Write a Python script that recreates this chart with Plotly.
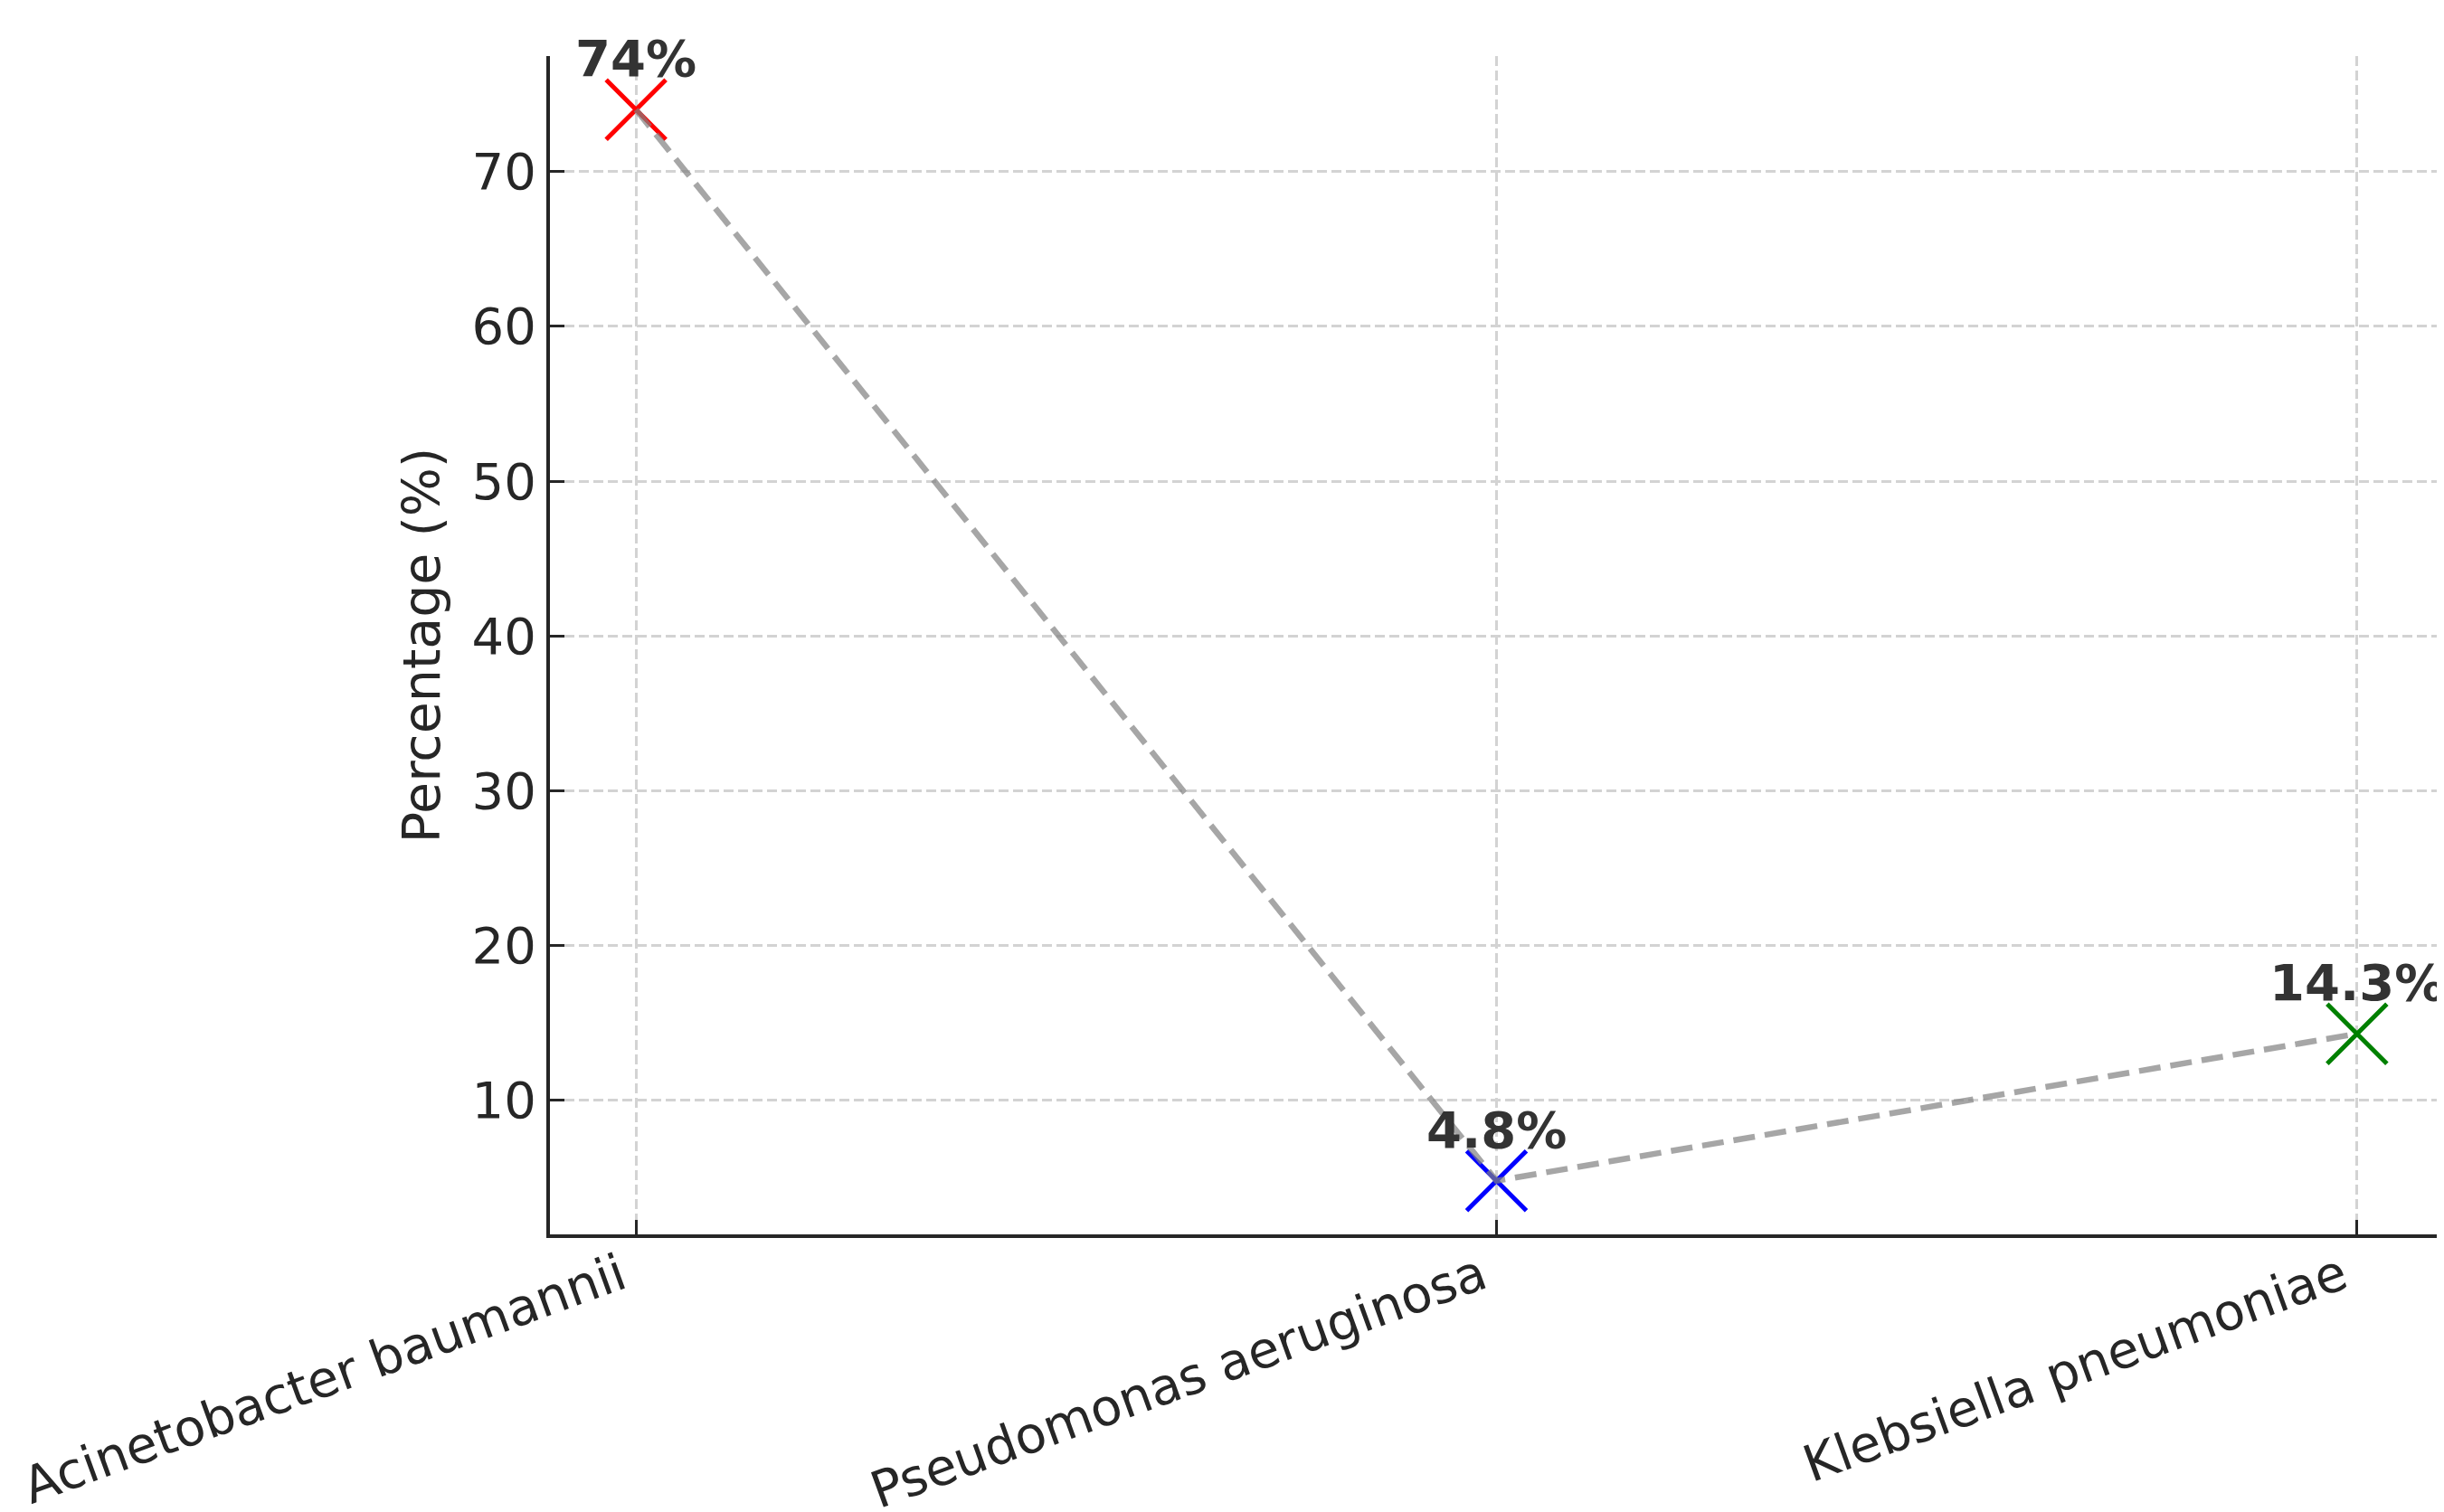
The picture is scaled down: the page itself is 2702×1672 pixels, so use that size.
import plotly.graph_objects as go

categories = ["Acinetobacter baumannii", "Pseudomonas aeruginosa", "Klebsiella pneumoniae"]
values = [74, 4.8, 14.3]
marker_colors = ["#ff0000", "#0000ff", "#008000"]
labels = [f"{v:g}%" for v in values]
y_tick_vals = [10, 20, 30, 40, 50, 60, 70]

FONT = "DejaVu Sans"
DARK = "#262626"

fig = go.Figure()

fig.add_trace(go.Scatter(
    x=categories, y=values, mode="markers",
    marker=dict(symbol="x-thin", size=66, color=marker_colors,
                line=dict(width=5, color=marker_colors)),
    showlegend=False, hoverinfo="skip", cliponaxis=False,
))
fig.add_trace(go.Scatter(
    x=categories, y=values, mode="lines",
    line=dict(color="rgba(128,128,128,0.7)", width=6.5, dash="24px,11px"),
    showlegend=False, hoverinfo="skip",
))

for c, v, t in zip(categories, values, labels):
    fig.add_annotation(
        x=c, y=v, text=f"<b>{t}</b>", showarrow=False,
        xanchor="center", yanchor="bottom", yshift=22,
        font=dict(family=FONT, size=56, color="#333333"),
    )

# page body has an 8px default margin: offsets compensate for it
fig.update_layout(
    width=2702, height=1672,
    margin=dict(l=600, r=9, t=54, b=315, pad=0),
    paper_bgcolor="white", plot_bgcolor="white",
    font=dict(family=FONT, color=DARK),
)

fig.update_xaxes(
    type="category", range=[-0.1, 2.1], automargin=False,
    tickvals=categories, ticktext=[c + "\u00a0" for c in categories],
    showline=True, linecolor=DARK, linewidth=4,
    ticks="inside", ticklen=16, tickwidth=3, tickcolor=DARK,
    tickangle=-20, tickfont=dict(family=FONT, size=56, color=DARK),
    ticklabelstandoff=-18,
    showgrid=True, gridcolor="#d3d3d3", gridwidth=3, griddash="11px,5px",
    zeroline=False, mirror=False,
)
fig.update_yaxes(
    range=[1.34, 77.46], tickvals=y_tick_vals, automargin=False,
    showline=True, linecolor=DARK, linewidth=4,
    ticks="inside", ticklen=16, tickwidth=3, tickcolor=DARK,
    tickfont=dict(family=FONT, size=56, color=DARK),
    showgrid=True, gridcolor="#d3d3d3", gridwidth=3, griddash="11px,5px",
    zeroline=False,
    title=dict(text="Percentage (%)", font=dict(family=FONT, size=57, color=DARK), standoff=18),
)

fig.write_html("out.html")
